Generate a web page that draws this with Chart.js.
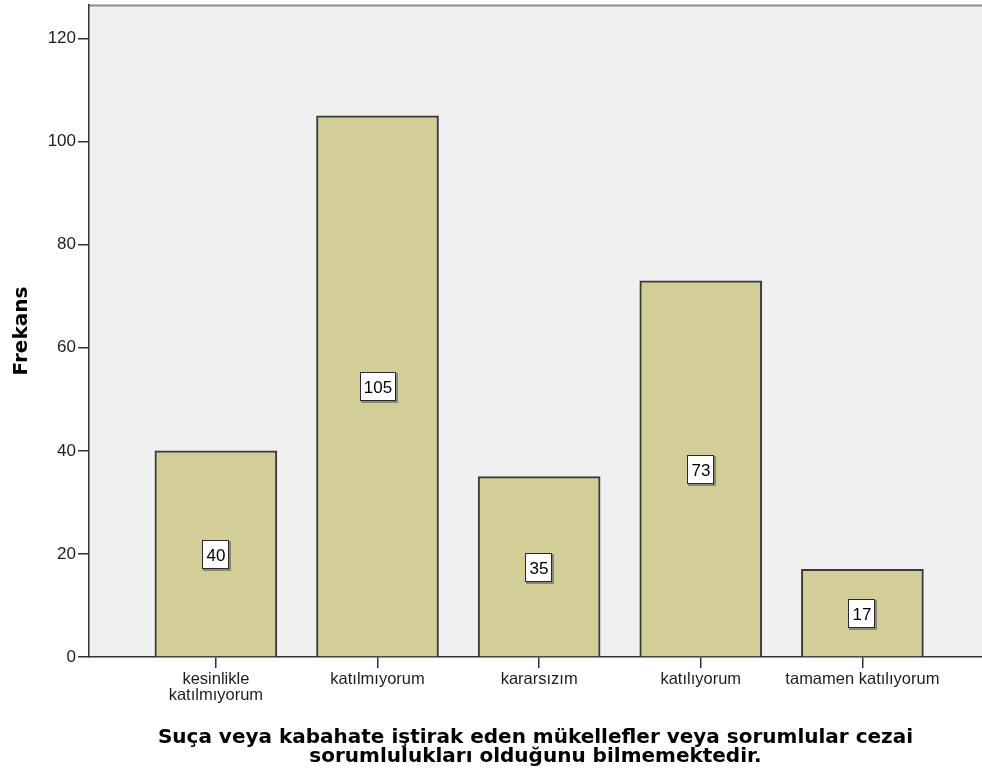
<!DOCTYPE html>
<html>
<head>
<meta charset="utf-8">
<script src="https://cdn.jsdelivr.net/npm/chart.js@4/dist/chart.umd.min.js"></script>
<style>
  html, body { margin: 0; padding: 0; background: #ffffff; }
  canvas { display: block; }
</style>
</head>
<body>
<canvas id="chart" width="982" height="775"></canvas>
<script>
// Response categories (multi-line where the label wraps)
const categories = [
  ['kesinlikle', 'katılmıyorum'],
  'katılmıyorum',
  'kararsızım',
  'katılıyorum',
  'tamamen katılıyorum'
];
// Frequency of each response
const frequencies = [40, 105, 35, 73, 17];
// Y axis tick values
const yTicks = [0, 20, 40, 60, 80, 100, 120];
// Axis titles
const xTitle = [
  'Suça veya kabahate iştirak eden mükellefler veya sorumlular cezai',
  'sorumlulukları olduğunu bilmemektedir.'
];
const yTitle = 'Frekans';

const TICK_FONT = 'Liberation Sans, Arial, sans-serif';
const TITLE_FONT = 'DejaVu Sans, Verdana, sans-serif';

// Grey plot background and the thin top frame line
const plotBackground = {
  id: 'plotBackground',
  beforeDraw(chart) {
    const { ctx, chartArea: a } = chart;
    ctx.save();
    ctx.fillStyle = '#f0f0f0';
    ctx.fillRect(a.left, a.top, a.right - a.left, a.bottom - a.top);
    ctx.strokeStyle = '#8c8c8c';
    ctx.lineWidth = 2;
    ctx.beginPath();
    ctx.moveTo(a.left, a.top + 0.5);
    ctx.lineTo(a.right, a.top + 0.5);
    ctx.stroke();
    ctx.restore();
  }
};

// Boxed value label in the middle of each bar
const valueBoxes = {
  id: 'valueBoxes',
  afterDatasetsDraw(chart) {
    const { ctx } = chart;
    const yScale = chart.scales.y;
    const meta = chart.getDatasetMeta(0);
    ctx.save();
    ctx.font = '17px ' + TICK_FONT;
    ctx.textAlign = 'center';
    ctx.textBaseline = 'middle';
    meta.data.forEach((bar, i) => {
      const value = frequencies[i];
      const text = String(value);
      const cx = Math.round(bar.x);
      const cy = Math.round(yScale.getPixelForValue(value / 2)) + 1;
      const w = Math.round(ctx.measureText(text).width) + 8;
      const h = 29;
      const x0 = cx - Math.round(w / 2);
      const y0 = cy - Math.round(h / 2);
      // soft shadow
      ctx.fillStyle = 'rgba(90,90,90,0.6)';
      ctx.fillRect(x0 + 1, y0 + 1, w + 1, h + 1);
      ctx.fillStyle = '#ffffff';
      ctx.fillRect(x0, y0, w, h);
      ctx.strokeStyle = '#2a2a2a';
      ctx.lineWidth = 1;
      ctx.strokeRect(x0 + 0.5, y0 + 0.5, w - 1, h - 1);
      ctx.fillStyle = '#000000';
      ctx.fillText(text, cx, cy + 1);
    });
    ctx.restore();
  }
};

new Chart(document.getElementById('chart'), {
  type: 'bar',
  data: {
    datasets: [{
      data: frequencies.map((v, i) => ({ x: i, y: v })),
      backgroundColor: '#d3ce98',
      borderColor: '#3a3a3a',
      borderWidth: 2,
      barThickness: 122
    }]
  },
  options: {
    responsive: false,
    animation: false,
    layout: { padding: { top: 5, right: 0, bottom: 0, left: 0 } },
    plugins: {
      legend: { display: false },
      tooltip: { enabled: false }
    },
    scales: {
      x: {
        type: 'linear',
        offset: false,
        min: -0.785,
        max: 4.74,
        afterBuildTicks(scale) {
          scale.ticks = categories.map((c, i) => ({ value: i }));
        },
        afterFit(scale) {
          scale.height = 118;
          scale.paddingLeft = 0;
          scale.paddingRight = 0;
        },
        ticks: {
          callback: (value, index) => categories[index],
          font: { family: TICK_FONT, size: 16.5, lineHeight: 1.0 },
          color: '#1e1e1e',
          padding: 3,
          maxRotation: 0,
          autoSkip: false
        },
        grid: {
          offset: false,
          drawOnChartArea: false,
          drawTicks: true,
          tickLength: 11,
          color: '#333333',
          lineWidth: 1.5
        },
        border: { display: true, color: '#333333', width: 1.5 },
        title: {
          display: true,
          text: xTitle,
          color: '#000000',
          font: { family: TITLE_FONT, size: 20, weight: 'bold', lineHeight: '19px' },
          padding: { top: 0, bottom: 9 }
        }
      },
      y: {
        min: 0,
        max: 126.5,
        afterBuildTicks(scale) {
          scale.ticks = yTicks.map(v => ({ value: v }));
        },
        afterFit(scale) {
          scale.width = 89;
          scale.paddingTop = 0;
          scale.paddingBottom = 0;
        },
        ticks: {
          font: { family: TICK_FONT, size: 17 },
          color: '#1e1e1e',
          padding: 2
        },
        grid: {
          drawOnChartArea: false,
          drawTicks: true,
          tickLength: 11,
          color: '#333333',
          lineWidth: 1.5
        },
        border: { display: true, color: '#333333', width: 1.5 },
        title: {
          display: true,
          text: yTitle,
          color: '#000000',
          font: { family: TITLE_FONT, size: 20, weight: 'bold', lineHeight: 1.2 },
          padding: { top: 10, bottom: 0 }
        }
      }
    }
  },
  plugins: [plotBackground, valueBoxes]
});
</script>
</body>
</html>
